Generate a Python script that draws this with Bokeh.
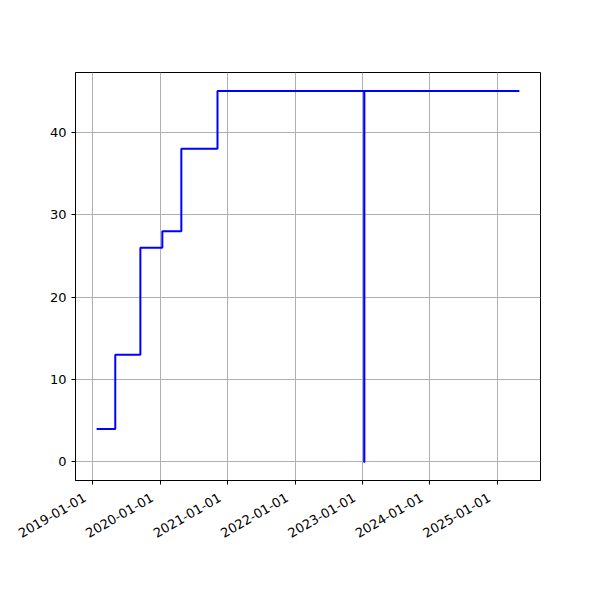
import math
import pandas as pd
from bokeh.plotting import figure
from bokeh.models import Range1d, FixedTicker, LinearAxis
from bokeh.embed import file_html
from bokeh.resources import INLINE

# data
dates = ["2019-01-21", "2019-05-02", "2019-09-15", "2020-01-12", "2020-04-24",
         "2020-11-06", "2023-01-10", "2023-01-11", "2025-04-30"]
values = [4, 13, 26, 28, 38, 45, 0, 45, 45]
tick_labels = ["2019-01-01", "2020-01-01", "2021-01-01", "2022-01-01",
               "2023-01-01", "2024-01-01", "2025-01-01"]
y_ticks = [0, 10, 20, 30, 40]

x = pd.to_datetime(dates)
span = x.max() - x.min()
x0 = x.min() - span * 0.05
x1 = x.max() + span * 0.05
ymin, ymax = min(values), max(values)
yr = ymax - ymin
ylo, yhi = ymin - 0.05 * yr, ymax + 0.05 * yr

W, H = 584, 584
FRAME_W = 465
p = figure(width=W, height=H, x_axis_type="datetime", output_backend="svg",
           toolbar_location=None,
           x_range=Range1d(x0, x1),
           y_range=Range1d(ylo, yhi),
           min_border_left=75, min_border_right=44,
           min_border_top=72, min_border_bottom=104)

p.step(x, values, mode="after", line_color="blue", line_width=2)

tick_ms = [float(pd.Timestamp(t).value // 10**6) for t in tick_labels]
p.xaxis.ticker = FixedTicker(ticks=tick_ms)
p.xaxis.major_label_overrides = {t: "" for t in tick_ms}
p.xaxis.major_label_text_font_size = "1px"
p.xaxis.major_label_standoff = 0
p.xgrid.ticker = FixedTicker(ticks=tick_ms)
p.yaxis.ticker = FixedTicker(ticks=y_ticks)

# rotated labels, shifted so their right end sits at the tick
ms_per_px = (x1 - x0).total_seconds() * 1000 / FRAME_W
shift = round(8 * ms_per_px)
lab_ticks = [t - shift for t in tick_ms]
lab_axis = LinearAxis(ticker=FixedTicker(ticks=lab_ticks),
                      major_label_overrides={t: s for t, s in zip(lab_ticks, tick_labels)},
                      major_label_orientation=math.pi / 6,
                      major_label_standoff=12,
                      major_tick_in=0, major_tick_out=0,
                      minor_tick_in=0, minor_tick_out=0,
                      axis_line_color=None,
                      major_label_text_font="DejaVu Sans",
                      major_label_text_font_size="13px",
                      major_label_text_color="black")
p.add_layout(lab_axis, "below")

for ax in (p.xaxis[0], p.yaxis[0]):
    ax.major_tick_in = 0
    ax.major_tick_out = 4
    ax.minor_tick_in = 0
    ax.minor_tick_out = 0
    ax.axis_line_color = "black"
    ax.major_tick_line_color = "black"
p.yaxis.major_label_text_font = "DejaVu Sans"
p.yaxis.major_label_text_font_size = "13px"
p.yaxis.major_label_text_color = "black"

p.grid.grid_line_color = "#b0b0b0"
p.grid.grid_line_width = 1
p.outline_line_color = "black"
p.outline_line_alpha = 1
p.outline_line_width = 1
p.background_fill_color = "white"
p.border_fill_color = "white"

open("out.html", "w").write(file_html(p, INLINE))
